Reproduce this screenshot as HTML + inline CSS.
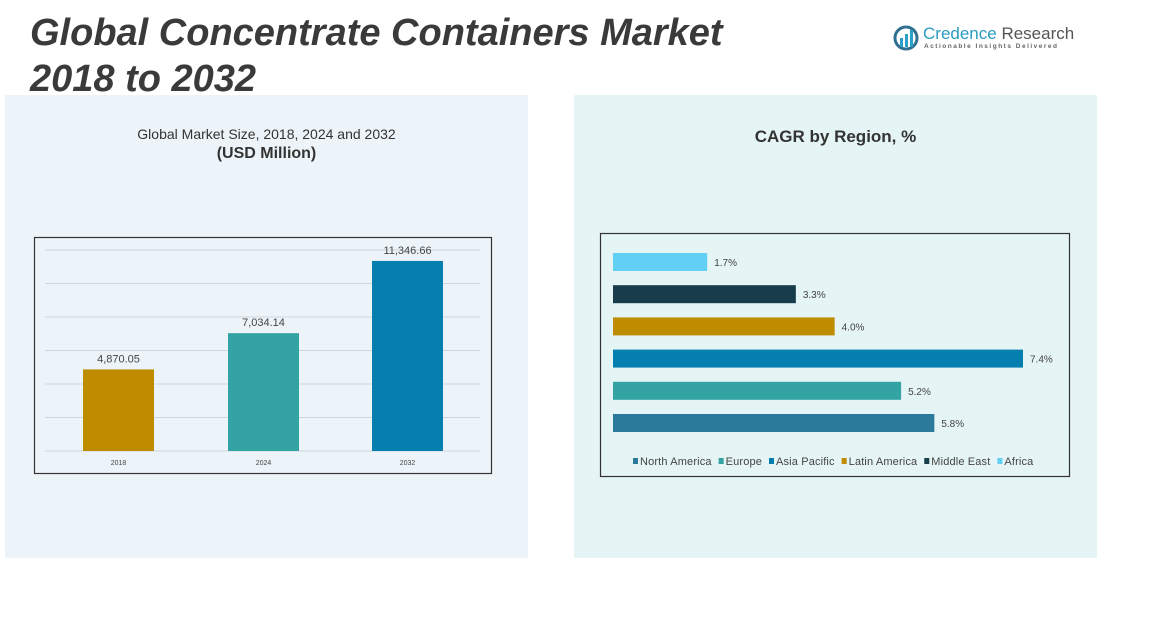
<!DOCTYPE html>
<html><head><meta charset="utf-8"><style>
body{margin:0;width:1150px;height:630px;background:#fff;position:relative;overflow:hidden;font-family:"Liberation Sans",sans-serif}
.abs{position:absolute}
</style></head><body>
<div class="abs" style="left:5px;top:95px;width:523px;height:463px;background:#edf4f9"></div>
<div class="abs" style="left:574px;top:95px;width:523px;height:463px;background:#e5f4f5"></div>
<div class="abs" style="left:30px;top:10px;font-size:38px;font-weight:bold;font-style:italic;color:#3a3a3a;line-height:46px">Global Concentrate Containers Market<br>2018 to 2032</div>
<div class="abs" style="left:893px;top:24px;width:180px;height:36px">
<svg width="28" height="28" style="position:absolute;left:0;top:1px"><circle cx="13" cy="13" r="11" fill="none" stroke="#2f6f8f" stroke-width="3"/><rect x="7" y="13" width="3" height="9" fill="#2aa0c8"/><rect x="12" y="9" width="3" height="13" fill="#2aa0c8"/><rect x="17" y="5" width="3" height="17" fill="#2aa0c8"/></svg>
<div class="abs" style="left:30px;top:0;font-size:17px;color:#2a9cc0;white-space:nowrap">Credence <span style="color:#555">Research</span></div>
<div class="abs" style="left:31px;top:19px;font-size:6.5px;letter-spacing:1.5px;color:#666;white-space:nowrap;font-weight:bold">Actionable Insights Delivered</div>
</div>
<div class="abs" style="left:5px;width:523px;top:126px;text-align:center;font-size:14px;color:#333">Global Market Size, 2018, 2024 and 2032<br><b style="font-size:16px;line-height:24px">(USD Million)</b></div>
<div class="abs" style="left:574px;width:523px;top:127px;text-align:center;font-size:17px;font-weight:bold;color:#333">CAGR by Region, %</div>
<svg class="abs" style="left:0;top:0" width="1150" height="630" id="svg"></svg>
<script>
const years=["2018","2024","2032"];
const sizes=[4870.05,7034.14,11346.66];
const sizeLabels=["4,870.05","7,034.14","11,346.66"];
const sizeColors=["#bf8c00","#33a3a3","#047fb0"];
const gridTicks=[0,2000,4000,6000,8000,10000,12000];
const regions=["Africa","Middle East","Latin America","Asia Pacific","Europe","North America"];
const cagr=[1.7,3.3,4.0,7.4,5.2,5.8];
const regionColors=["#62d0f5","#173d4b","#bf8c00","#047fb0","#33a3a3","#2b7a9b"];
const legendOrder=["North America","Europe","Asia Pacific","Latin America","Middle East","Africa"];
const legendColors=["#2b7a9b","#33a3a3","#047fb0","#bf8c00","#173d4b","#62d0f5"];
const svg=document.getElementById('svg');const NS="http://www.w3.org/2000/svg";
function mk(t,a,txt){const e=document.createElementNS(NS,t);for(const k in a)e.setAttribute(k,a[k]);if(txt!==undefined)e.textContent=txt;svg.appendChild(e);return e;}
let e=mk('rect',{x:34.5,y:237.5,width:457,height:236,fill:'none',stroke:'#333','stroke-width':1.2});

const y0=451,yk=(451-250)/12000;const Y=v=>y0-v*yk;
gridTicks.forEach(t=>{const g=mk('line',{x1:45,x2:480,y1:Y(t),y2:Y(t),stroke:'#d0d6da','stroke-width':1});
});
const bx=[83,228,372];
years.forEach((yr,i)=>{const x=bx[i];
const r=mk('rect',{x:x,y:Y(sizes[i]),width:71,height:sizes[i]*yk,fill:sizeColors[i]});

const l=mk('text',{x:x+35.5,y:Y(sizes[i])-7,'text-anchor':'middle','font-size':11,fill:'#444'},sizeLabels[i]);

const a=mk('text',{x:x+35.5,y:465,'text-anchor':'middle','font-size':7,fill:'#444'},yr);
});
e=mk('rect',{x:600.5,y:233.5,width:469,height:243,fill:'none',stroke:'#333','stroke-width':1.2});

const xk=410/7.4,x0=613;
regions.forEach((rg,i)=>{const cy=262+i*32.2;
const r=mk('rect',{x:x0,y:cy-9,width:cagr[i]*xk,height:18,fill:regionColors[i]});

const l=mk('text',{x:x0+cagr[i]*xk+7,y:cy+4,'font-size':10,fill:'#444'},cagr[i].toFixed(1)+'%');
});
let lx=633;
legendOrder.forEach((n,i)=>{const s=mk('rect',{x:lx,y:458,width:5,height:6,fill:legendColors[i]});

const t=mk('text',{x:lx+7,y:465,'font-size':11,fill:'#444','letter-spacing':0.15},n);

lx+=7+t.getComputedTextLength()+7;});
</script>
</body></html>
